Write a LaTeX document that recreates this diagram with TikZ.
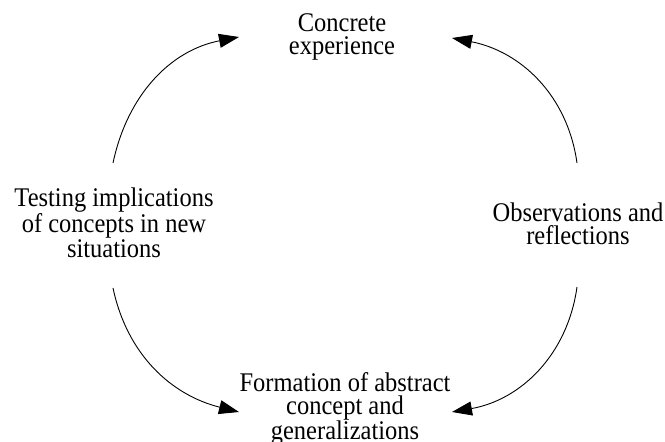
\documentclass[tikz,border=0pt]{standalone}
\usepackage{fontspec}
\setmainfont{Liberation Serif}
\usetikzlibrary{arrows.meta}
\tikzset{
  lbl/.style={align=center, inner sep=0pt, yscale=1.1, transform shape, font=\fontsize{24.5}{21}\selectfont},
  cyc/.style={line width=0.9pt, -{Triangle[length=20pt,width=14pt]}}
}
\begin{document}
\begin{tikzpicture}[x=1pt,y=1pt]
\clip (0,0) rectangle (665,442);
\useasboundingbox (0,0) rectangle (665,442);
\node[lbl] (ce) at (342,405) {Concrete\\experience};
\node[lbl] (ti) at (114,219) {Testing implications\\of concepts in new\\situations};
\node[lbl] (ob) at (578,218) {Observations and\\reflections};
\node[lbl] (fa) at (345,33) {Formation of abstract\\concept and\\generalizations};
\coordinate (s1) at (113,279);
\coordinate (e1) at (239,405);
\coordinate (s2) at (577,279);
\coordinate (e2) at (452,404);
\coordinate (s3) at (113,154);
\coordinate (e3) at (239,30);
\coordinate (s4) at (577,155);
\coordinate (e4) at (452,30);
\draw[cyc] (s1) to[out=78,in=191] (e1);
\draw[cyc] (s2) to[out=98,in=-11] (e2);
\draw[cyc] (s3) to[out=-78,in=166] (e3);
\draw[cyc] (s4) to[out=-98,in=10] (e4);
\end{tikzpicture}
\end{document}
